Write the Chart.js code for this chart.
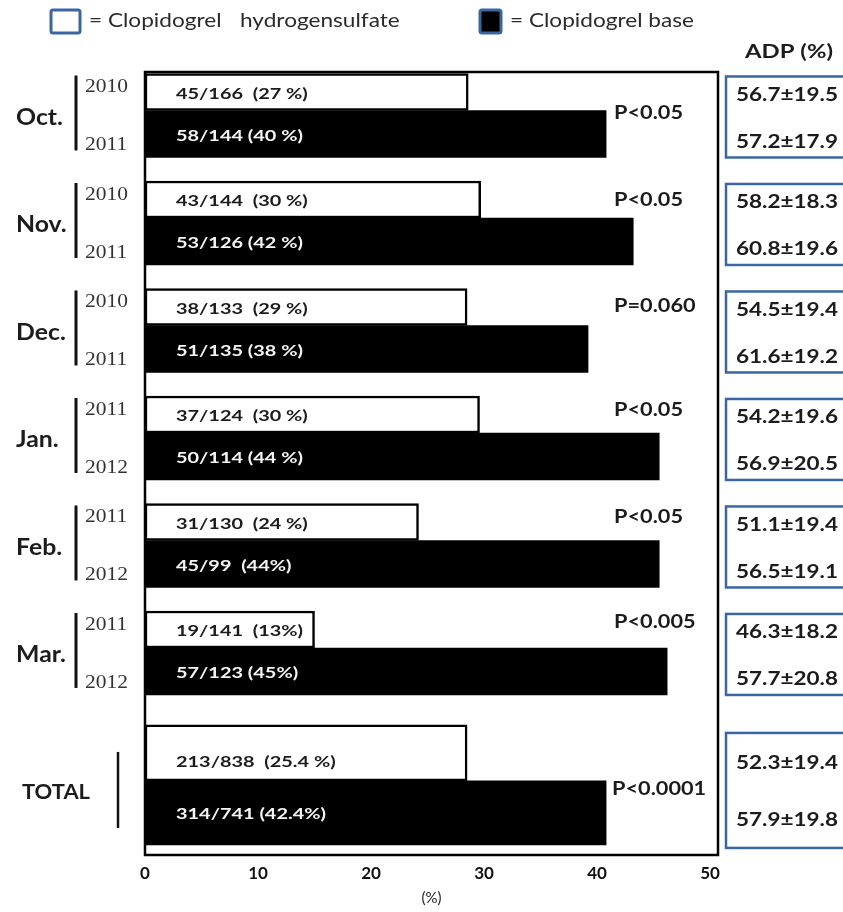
<!DOCTYPE html>
<html>
<head>
<meta charset="utf-8">
<script src="https://cdn.jsdelivr.net/npm/chart.js@4.4.1/dist/chart.umd.min.js"></script>
<style>
html,body{margin:0;padding:0;background:#fff;}
#wrap{position:relative;width:843px;height:912px;}
</style>
</head>
<body>
<div id="wrap"><canvas id="c" width="843" height="912"></canvas></div>
<script>
// ---------------- data ----------------
const months      = ['Oct.', 'Nov.', 'Dec.', 'Jan.', 'Feb.', 'Mar.'];
const yearsFirst  = ['2010', '2010', '2010', '2011', '2011', '2011'];
const yearsSecond = ['2011', '2011', '2011', '2012', '2012', '2012'];
// bar lengths (%) as drawn in the picture
const hydroPct = [28.6, 29.7, 28.5, 29.6, 24.2, 15.0];
const basePct  = [40.8, 43.2, 39.2, 45.5, 45.5, 46.2];
const totalHydroPct = 28.5;
const totalBasePct  = 40.8;
const hydroLabels = ['45/166  (27 %)', '43/144  (30 %)', '38/133  (29 %)', '37/124  (30 %)', '31/130  (24 %)', '19/141  (13%)'];
const baseLabels  = ['58/144 (40 %)', '53/126 (42 %)', '51/135 (38 %)', '50/114 (44 %)', '45/99  (44%)', '57/123 (45%)'];
const pValues     = ['P<0.05', 'P<0.05', 'P=0.060', 'P<0.05', 'P<0.05', 'P<0.005'];
const adpHydro    = ['56.7±19.5', '58.2±18.3', '54.5±19.4', '54.2±19.6', '51.1±19.4', '46.3±18.2'];
const adpBase     = ['57.2±17.9', '60.8±19.6', '61.6±19.2', '56.9±20.5', '56.5±19.1', '57.7±20.8'];
const totalLabel      = 'TOTAL';
const totalHydroLabel = '213/838  (25.4 %)';
const totalBaseLabel  = '314/741 (42.4%)';
const totalP          = 'P<0.0001';
const totalAdpHydro   = '52.3±19.4';
const totalAdpBase    = '57.9±19.8';
const xTicks = [0, 10, 20, 30, 40, 50];
const legendHydro = ['= Clopidogrel', 'hydrogensulfate'];
const legendBase  = '= Clopidogrel base';
const adpHeader   = 'ADP (%)';
const xTitle      = '(%)';

// ---------------- layout / style ----------------
const FONT  = 'Lato, "Open Sans", "DejaVu Sans", sans-serif';
const SERIF = '"Liberation Serif", "DejaVu Serif", serif';
const BLUE  = '#3a67a3';
const TEXT  = '#1c1c1c';
const TOTAL_POS = 6.237;
const pOffsets = [2, -18, -20, -23, -24, -26];

const positions = months.map((m, i) => i).concat([TOTAL_POS]);
const monthSeries = arr => positions.map((p, i) => ({ x: i < months.length ? arr[i] : null, y: p }));
const totalSeries = v => positions.map((p, i) => ({ x: i === months.length ? v : null, y: p }));

function classScale(ctx, font, ref, width) {
  ctx.save(); ctx.font = font;
  const w = ctx.measureText(ref).width;
  ctx.restore();
  return width / w;
}
function txt(ctx, s, x, y, font, color, sx, align) {
  ctx.save();
  ctx.font = font; ctx.fillStyle = color;
  ctx.textBaseline = 'middle'; ctx.textAlign = align || 'left';
  ctx.translate(x, y); ctx.scale(sx, 1);
  ctx.fillText(s, 0, 0);
  ctx.restore();
}

const annot = {
  id: 'annot',
  afterDatasetsDraw(chart) {
    const { ctx, chartArea: a, scales: { y } } = chart;
    // frame
    ctx.save();
    ctx.strokeStyle = '#000'; ctx.lineWidth = 2.5;
    ctx.strokeRect(a.left, a.top, a.right - a.left, a.bottom - a.top);
    ctx.restore();

    const fMonth = 'bold 22px ' + FONT;
    const fYear  = '18px ' + SERIF;
    const fBar   = 'bold 16px ' + FONT;
    const fP     = 'bold 19px ' + FONT;
    const fAdp   = 'bold 19px ' + FONT;
    const fLeg   = '19px ' + FONT;
    const sMonth = classScale(ctx, fMonth, 'Oct.', 47);
    const sYear  = classScale(ctx, fYear, '2010', 43);
    const sBar   = classScale(ctx, fBar, '58/144 (40 %)', 127);
    const sP     = classScale(ctx, fP, 'P<0.05', 69);
    const sAdp   = classScale(ctx, fAdp, '56.7±19.5', 102);
    const sHead  = classScale(ctx, fAdp, adpHeader, 88);
    const sLeg   = classScale(ctx, fLeg, legendBase, 184);
    const sTot   = classScale(ctx, 'bold 21px ' + FONT, totalLabel, 68);

    // legend
    ctx.save();
    ctx.lineWidth = 3; ctx.strokeStyle = BLUE;
    ctx.beginPath(); ctx.roundRect(51, 10, 29, 23, 2); ctx.fillStyle = '#fff'; ctx.fill(); ctx.stroke();
    ctx.beginPath(); ctx.roundRect(480, 10, 21, 23, 2); ctx.fillStyle = '#000'; ctx.fill(); ctx.stroke();
    ctx.restore();
    txt(ctx, legendHydro[0], 89, 21, fLeg, '#2a2a2a', sLeg);
    txt(ctx, legendHydro[1], 240, 21, fLeg, '#2a2a2a', sLeg);
    txt(ctx, legendBase, 510, 21, fLeg, '#2a2a2a', sLeg);
    txt(ctx, adpHeader, 745, 52, fAdp, TEXT, sHead);

    months.forEach((m, i) => {
      const c = y.getPixelForValue(positions[i]);
      txt(ctx, m, 16, c + 7, fMonth, TEXT, sMonth);
      ctx.save(); ctx.strokeStyle = '#111'; ctx.lineWidth = 3;
      ctx.beginPath(); ctx.moveTo(76, c - 35); ctx.lineTo(76, c + 40); ctx.stroke(); ctx.restore();
      txt(ctx, yearsFirst[i], 85, c - 23, fYear, '#333', sYear);
      txt(ctx, yearsSecond[i], 85, c + 35, fYear, '#333', sYear);
      txt(ctx, hydroLabels[i], 176, c - 17, fBar, TEXT, sBar);
      txt(ctx, baseLabels[i], 176, c + 25, fBar, '#f4f4f4', sBar);
      txt(ctx, pValues[i], 614, c + pOffsets[i], fP, TEXT, sP);
      ctx.save(); ctx.strokeStyle = BLUE; ctx.lineWidth = 2.5;
      ctx.strokeRect(726, c - 34, 130, 81); ctx.restore();
      txt(ctx, adpHydro[i], 736, c - 16, fAdp, TEXT, sAdp);
      txt(ctx, adpBase[i], 736, c + 31, fAdp, TEXT, sAdp);
    });

    // TOTAL row
    const c = y.getPixelForValue(TOTAL_POS);
    txt(ctx, totalLabel, 22, c + 11, 'bold 21px ' + FONT, TEXT, sTot);
    ctx.save(); ctx.strokeStyle = '#111'; ctx.lineWidth = 2.5;
    ctx.beginPath(); ctx.moveTo(118, c - 29); ctx.lineTo(118, c + 47); ctx.stroke(); ctx.restore();
    txt(ctx, totalHydroLabel, 176, c - 19, fBar, TEXT, sBar);
    txt(ctx, totalBaseLabel, 176, c + 33, fBar, '#f4f4f4', sBar);
    txt(ctx, totalP, 612, c + 8, fP, TEXT, sP);
    ctx.save(); ctx.strokeStyle = BLUE; ctx.lineWidth = 2.5;
    ctx.strokeRect(726, c - 48, 130, 115); ctx.restore();
    txt(ctx, totalAdpHydro, 736, c - 18, fAdp, TEXT, sAdp);
    txt(ctx, totalAdpBase, 736, c + 39, fAdp, TEXT, sAdp);
  }
};

const common = { borderSkipped: false, skipNull: true, grouped: true };
new Chart(document.getElementById('c').getContext('2d'), {
  type: 'bar',
  data: {
    datasets: [
      Object.assign({ label: 'Clopidogrel hydrogensulfate', data: monthSeries(hydroPct), backgroundColor: '#fff', borderColor: '#000', borderWidth: 2.5, barThickness: 37 }, common),
      Object.assign({ label: 'Clopidogrel base', data: monthSeries(basePct), backgroundColor: '#000', borderColor: '#000', borderWidth: 0, barThickness: 47 }, common),
      Object.assign({ label: 'Clopidogrel hydrogensulfate (total)', data: totalSeries(totalHydroPct), backgroundColor: '#fff', borderColor: '#000', borderWidth: 2.5, barThickness: 56 }, common),
      Object.assign({ label: 'Clopidogrel base (total)', data: totalSeries(totalBasePct), backgroundColor: '#000', borderColor: '#000', borderWidth: 0, barThickness: 64 }, common)
    ]
  },
  options: {
    indexAxis: 'y',
    responsive: false,
    animation: false,
    layout: { padding: { left: 145, right: 125, top: 72, bottom: 0 } },
    plugins: { legend: { display: false }, tooltip: { enabled: false } },
    scales: {
      x: {
        type: 'linear', min: 0, max: 50.7,
        afterBuildTicks: s => { s.ticks = xTicks.map(v => ({ value: v })); },
        afterFit: s => { s.height = 57; },
        grid: { display: false, drawTicks: false },
        border: { display: false },
        ticks: { padding: 8, color: '#111', font: { family: FONT, size: 17, weight: 'bold' } },
        title: { display: true, text: xTitle, color: '#222', font: { family: FONT, size: 15 }, padding: { top: 0, bottom: 5 } }
      },
      y: { type: 'linear', reverse: true, min: -0.358, max: 6.926, offset: false, display: false }
    }
  },
  plugins: [annot]
});
</script>
</body>
</html>
